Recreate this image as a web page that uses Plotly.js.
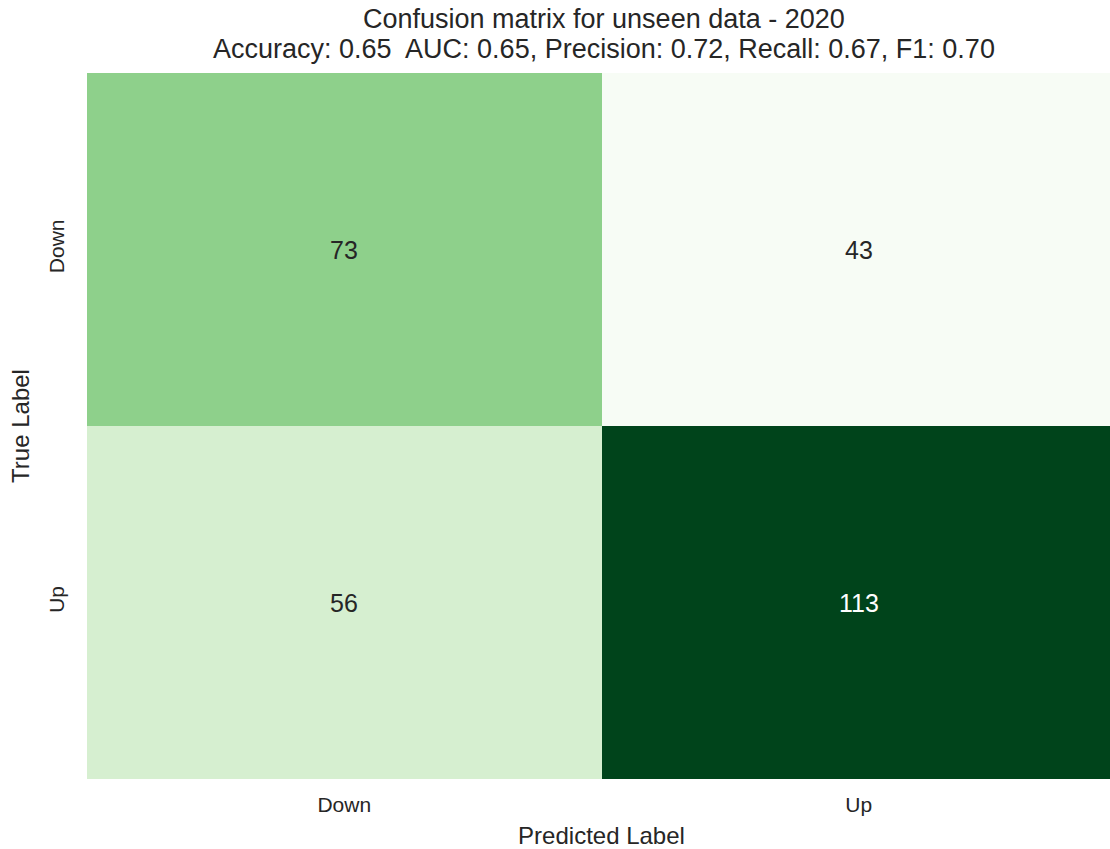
<!DOCTYPE html>
<html>
<head>
<meta charset="utf-8">
<script src="https://cdn.plot.ly/plotly-3.0.1.min.js"></script>
<style>
  html, body { margin: 0; padding: 0; background: #ffffff; overflow: hidden; }
  #chart { width: 1116px; height: 849px; }
</style>
</head>
<body>
<div id="chart"></div>
<script>
// Class labels for predicted (columns) and true (rows)
const predictedLabels = ['Down', 'Up'];
const trueLabels = ['Down', 'Up'];

// Confusion-matrix counts, one row per true label
const rowDown = [73, 43];
const rowUp = [56, 113];
const counts = [rowDown, rowUp];

// Summary metrics shown under the title
const titleText = 'Confusion matrix for unseen data - 2020';
const metricNames = ['Accuracy', 'AUC', 'Precision', 'Recall', 'F1'];
const metricValues = [0.65, 0.65, 0.72, 0.67, 0.70];

// matplotlib "Greens" sequential palette
const greens = [
  [0.0, '#f7fcf5'], [0.125, '#e5f5e0'], [0.25, '#c7e9c0'],
  [0.375, '#a1d99b'], [0.5, '#74c476'], [0.625, '#41ab5d'],
  [0.75, '#238b45'], [0.875, '#006d2c'], [1.0, '#00441b']
];

const flat = counts.flat();
const zMin = Math.min(...flat);
const zMax = Math.max(...flat);

const fontFamily = 'Liberation Sans, Arial, sans-serif';
const textDark = '#262626';

// Cell value labels: white on dark cells, dark grey elsewhere
const annotations = [];
trueLabels.forEach((t, i) => {
  predictedLabels.forEach((p, j) => {
    const v = counts[i][j];
    const frac = (v - zMin) / (zMax - zMin);
    annotations.push({
      x: p, y: t, xref: 'x', yref: 'y',
      text: String(v), showarrow: false,
      font: { family: fontFamily, size: 25, color: frac > 0.6 ? '#ffffff' : textDark }
    });
  });
});

// Two-line heading, each line placed on its own
const metricsLine = metricNames.map((n, k) => n + ': ' + metricValues[k].toFixed(2))
  .reduce((acc, s, k) => k === 0 ? s : acc + (k === 1 ? '  ' : ', ') + s, '');

[[titleText, 1.077], [metricsLine, 1.0335]].forEach(([txt, yPos]) => {
  annotations.push({
    x: 0.5024, y: yPos, xref: 'paper', yref: 'paper',
    xanchor: 'center', yanchor: 'middle',
    text: txt, showarrow: false,
    font: { family: fontFamily, size: 27, color: textDark }
  });
});

const data = [{
  type: 'heatmap',
  x: predictedLabels,
  y: trueLabels,
  z: counts,
  colorscale: greens,
  zmin: zMin,
  zmax: zMax,
  showscale: false,
  xgap: 0,
  ygap: 0,
  hoverinfo: 'none'
}];

const layout = {
  width: 1116,
  height: 849,
  paper_bgcolor: '#ffffff',
  plot_bgcolor: '#ffffff',
  margin: { l: 87, r: 0, t: 73, b: 70 },
  font: { family: fontFamily, color: textDark },
  xaxis: {
    type: 'category',
    showgrid: false, zeroline: false, showline: false, ticks: '',
    tickfont: { family: fontFamily, size: 21, color: textDark },
    ticklabelstandoff: 11,
    title: { text: 'Predicted Label', standoff: 13, font: { family: fontFamily, size: 24, color: textDark } }
  },
  yaxis: {
    type: 'category',
    autorange: 'reversed',
    showgrid: false, zeroline: false, showline: false, ticks: '',
    tickangle: -90,
    tickfont: { family: fontFamily, size: 21, color: textDark },
    ticklabelstandoff: 18,
    title: { text: 'True Label', standoff: 8, font: { family: fontFamily, size: 24, color: textDark } }
  },
  annotations: annotations
};

Plotly.newPlot('chart', data, layout, { displayModeBar: false, staticPlot: true });
</script>
</body>
</html>
